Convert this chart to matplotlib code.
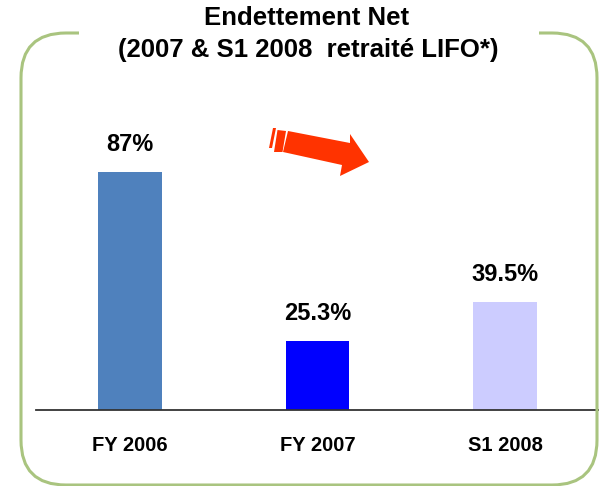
import matplotlib.pyplot as plt
from matplotlib.patches import FancyBboxPatch, Rectangle, Polygon

categories = ["FY 2006", "FY 2007", "S1 2008"]
values = [87, 25.3, 39.5]
value_labels = ["87%", "25.3%", "39.5%"]
colors = ["#4F81BD", "#0000FF", "#CCCCFF"]

W, H = 599, 486
plt.rcParams['font.family'] = ['Liberation Sans', 'DejaVu Sans']

fig = plt.figure(figsize=(W / 100, H / 100), dpi=100)


def fx(x):
    return x / W


def fy(y):
    return 1 - y / H


# rounded green frame, open at the top behind the title
frame = FancyBboxPatch((fx(21), fy(485)), fx(597) - fx(21), fy(33) - fy(485),
                       boxstyle="round,pad=0,rounding_size=0.075",
                       transform=fig.transFigure, facecolor='none',
                       edgecolor='#A9C47F', linewidth=2.2, mutation_aspect=W / H)
fig.patches.append(frame)
fig.patches.append(Rectangle((fx(79), fy(37)), fx(539) - fx(79), fy(29) - fy(37),
                             transform=fig.transFigure, facecolor='white',
                             edgecolor='none'))

ax = fig.add_axes([fx(36), fy(410), 1 - fx(36), fy(100) - fy(410)])
x = range(len(categories))
ax.bar(x, values, width=0.34, color=colors, zorder=2)
for xi, v, lab in zip(x, values, value_labels):
    ax.annotate(lab, (xi, v), xytext=(0, 27 * 0.72), textcoords='offset points',
                ha='center', va='center', fontsize=17, fontweight='bold')
    ax.annotate(categories[xi], (xi, 0), xytext=(0, -35 * 0.72), textcoords='offset points',
                ha='center', va='center', fontsize=14.5, fontweight='bold')

ax.set_xlim(-0.5, 2.5)
ax.set_ylim(0, 113.3)
ax.set_xticks([])
ax.set_yticks([])
for s in ['top', 'left', 'right']:
    ax.spines[s].set_visible(False)
ax.spines['bottom'].set_color('#333333')
ax.spines['bottom'].set_linewidth(1.3)
ax.patch.set_alpha(0)

fig.text(fx(307), fy(18), "Endettement Net", ha='center', va='center',
         fontsize=18.5, fontweight='bold')
fig.text(fx(308), fy(50), "(2007 & S1 2008  retraité LIFO*)", ha='center', va='center',
         fontsize=18.5, fontweight='bold')

# decorative trend arrow
arrow_color = '#FF3300'
body = [(288, 131), (350, 143), (350, 134), (369, 162), (340, 176), (342, 165), (283, 152)]
stripe1 = [(277.5, 130), (286, 131), (282.5, 152), (274, 152)]
stripe2 = [(273, 128), (276, 128), (272, 148), (269, 148)]
for pts in (body, stripe1, stripe2):
    fig.patches.append(Polygon([(fx(a), fy(b)) for a, b in pts], closed=True,
                               transform=fig.transFigure, facecolor=arrow_color,
                               edgecolor='none'))

plt.savefig("out.png", dpi=100)
plt.close()
